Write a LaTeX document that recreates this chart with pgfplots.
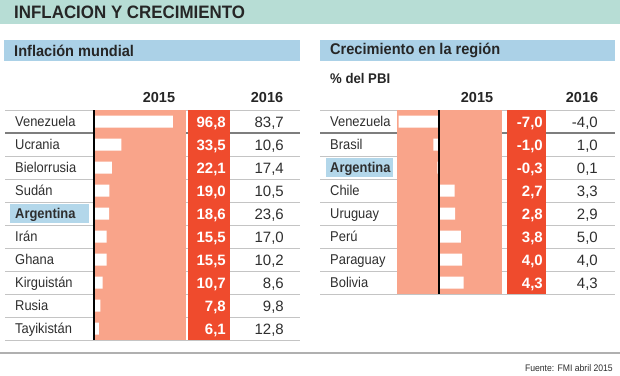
\documentclass[border=0pt]{standalone}
\usepackage{pgfplots}
\pgfplotsset{compat=1.18}
\usepackage{pgfplotstable}
\usepackage{fontspec}
\setmainfont{Liberation Sans}
\newfontfamily\cond{Liberation Sans}[FakeStretch=0.91]
\newfontfamily\condt{Liberation Sans}[FakeStretch=0.94]

\definecolor{titleband}{HTML}{B7DDD5}
\definecolor{headblue}{HTML}{ABD1E7}
\definecolor{hlblue}{HTML}{B3D7EA}
\definecolor{salmon}{HTML}{F9A48A}
\definecolor{redcol}{HTML}{EF4B2D}
\definecolor{txt}{HTML}{2E2E2E}
\definecolor{sepgray}{HTML}{C4C4C4}
\definecolor{sepdark}{HTML}{7E7E7E}

\pgfplotstableread[col sep=comma]{
name,a,b
Venezuela,96.8,83.7
Ucrania,33.5,10.6
Bielorrusia,22.1,17.4
Sudán,19.0,10.5
{\bfseries Argentina},18.6,23.6
Irán,15.5,17.0
Ghana,15.5,10.2
Kirguistán,10.7,8.6
Rusia,7.8,9.8
Tayikistán,6.1,12.8
}\inflacion

\pgfplotstableread[col sep=comma]{
name,a,b
Venezuela,-7.0,-4.0
Brasil,-1.0,1.0
{\bfseries Argentina},-0.3,0.1
Chile,2.7,3.3
Uruguay,2.8,2.9
Perú,3.8,5.0
Paraguay,4.0,4.0
Bolivia,4.3,4.3
}\crecimiento

\pgfplotsset{
  panel/.style={scale only axis, anchor=north west, axis lines=none, ticks=none,
    y dir=reverse, clip=false},
  namecol/.style={draw=none, mark=none, point meta=explicit symbolic, nodes near coords,
    nodes near coords style={anchor=base west, xshift=#1, yshift=-5.1pt, inner sep=0pt, text=txt,
      font=\cond\fontsize{14.2}{14}\selectfont}},
  numcol/.style 2 args={draw=none, mark=none, point meta=explicit,
    nodes near coords={\pgfmathprintnumber[fixed,fixed zerofill,precision=1,use comma,assume math mode=true]{\pgfplotspointmeta}},
    nodes near coords style={anchor=base east, xshift=#1, yshift=-5.5pt, inner sep=0pt, #2}},
}

\begin{document}
\begin{tikzpicture}
\useasboundingbox (0,0) rectangle (620pt,-375pt);
% title band
\fill[titleband] (0,0) rectangle (620pt,-24pt);
\node[anchor=west, inner sep=0pt, text=black!85, font=\condt\bfseries\fontsize{18}{18}\selectfont] at (14pt,-12.5pt) {INFLACION Y CRECIMIENTO};
% panel headers
\fill[headblue] (4pt,-40pt) rectangle (300pt,-61pt);
\fill[headblue] (320pt,-40pt) rectangle (615pt,-61pt);
\node[anchor=west, inner sep=0pt, text=black!85, font=\condt\bfseries\fontsize{15.5}{15.5}\selectfont] at (14pt,-50.5pt) {Inflación mundial};
\node[anchor=west, inner sep=0pt, text=black!85, font=\condt\bfseries\fontsize{15.5}{15.5}\selectfont] at (330pt,-50.5pt) {Crecimiento en la región};
\node[anchor=west, inner sep=0pt, text=black!85, font=\condt\bfseries\fontsize{14}{14}\selectfont] at (330pt,-78pt) {\% del PBI};
% column headers
\foreach \x in {159,477} \node[text=black!85, font=\bfseries\fontsize{14.5}{14.5}\selectfont] at (\x pt,-98pt) {2015};
\foreach \x in {267,582} \node[text=black!85, font=\bfseries\fontsize{14.5}{14.5}\selectfont] at (\x pt,-98pt) {2016};
% separators
\foreach \y in {110,156,179,202,225,248,271,294,317,340} \draw[sepgray, line width=0.9pt] (5pt,-\y pt) -- (300pt,-\y pt);
\foreach \y in {110,156,179,202,225,248,271,294} \draw[sepgray, line width=0.9pt] (320pt,-\y pt) -- (615pt,-\y pt);
\draw[sepdark, line width=1.5pt] (5pt,-133pt) -- (300pt,-133pt);
\draw[sepdark, line width=1.5pt] (320pt,-133pt) -- (615pt,-133pt);
% Argentina highlights
\fill[hlblue] (10pt,-204pt) rectangle (89pt,-223pt);
\fill[hlblue] (326pt,-158pt) rectangle (393pt,-177pt);
% red columns
\fill[redcol] (188pt,-110pt) rectangle (230pt,-340pt);
\fill[redcol] (507pt,-110pt) rectangle (546pt,-294pt);
% footer
\draw[sepgray!90!black, line width=2pt] (0,-353pt) -- (620pt,-353pt);
\node[anchor=east, inner sep=0pt, text=txt, font=\cond\fontsize{9.5}{9.5}\selectfont] at (613pt,-368pt) {Fuente: FMI abril 2015};

% left panel
\begin{axis}[panel, at={(94pt,-110pt)}, width=92pt, height=230pt,
  xmin=0, xmax=113, ymin=-0.5, ymax=9.5]
  \fill[salmon] (rel axis cs:0,0) rectangle (rel axis cs:1,1);
  \addplot[xbar, bar width=12pt, fill=white, draw=none] table[x=a, y expr=\coordindex] {\inflacion};
  \draw[black, line width=1.6pt] (axis cs:0,-0.5) -- (axis cs:0,9.5);
  \addplot[namecol=-79pt] table[x expr=0, y expr=\coordindex, meta=name] {\inflacion};
  \addplot[numcol={132pt}{text=white, font=\bfseries\fontsize{15}{15}\selectfont}] table[x expr=0, y expr=\coordindex, meta=a] {\inflacion};
  \addplot[numcol={190pt}{text=txt, font=\fontsize{15}{15}\selectfont}] table[x expr=0, y expr=\coordindex, meta=b] {\inflacion};
\end{axis}

% right panel
\begin{axis}[panel, at={(397pt,-110pt)}, width=105pt, height=184pt,
  xmin=-7.3, xmax=10.95, ymin=-0.5, ymax=7.5]
  \fill[salmon] (rel axis cs:0,0) rectangle (rel axis cs:1,1);
  \addplot[xbar, bar width=12pt, fill=white, draw=none] table[x=a, y expr=\coordindex] {\crecimiento};
  \draw[black, line width=1.6pt] (axis cs:0,-0.5) -- (axis cs:0,7.5);
  \addplot[namecol=-109pt] table[x expr=0, y expr=\coordindex, meta=name] {\crecimiento};
  \addplot[numcol={104pt}{text=white, font=\bfseries\fontsize{15}{15}\selectfont}] table[x expr=0, y expr=\coordindex, meta=a] {\crecimiento};
  \addplot[numcol={159pt}{text=txt, font=\fontsize{15}{15}\selectfont}] table[x expr=0, y expr=\coordindex, meta=b] {\crecimiento};
\end{axis}
\end{tikzpicture}
\end{document}
